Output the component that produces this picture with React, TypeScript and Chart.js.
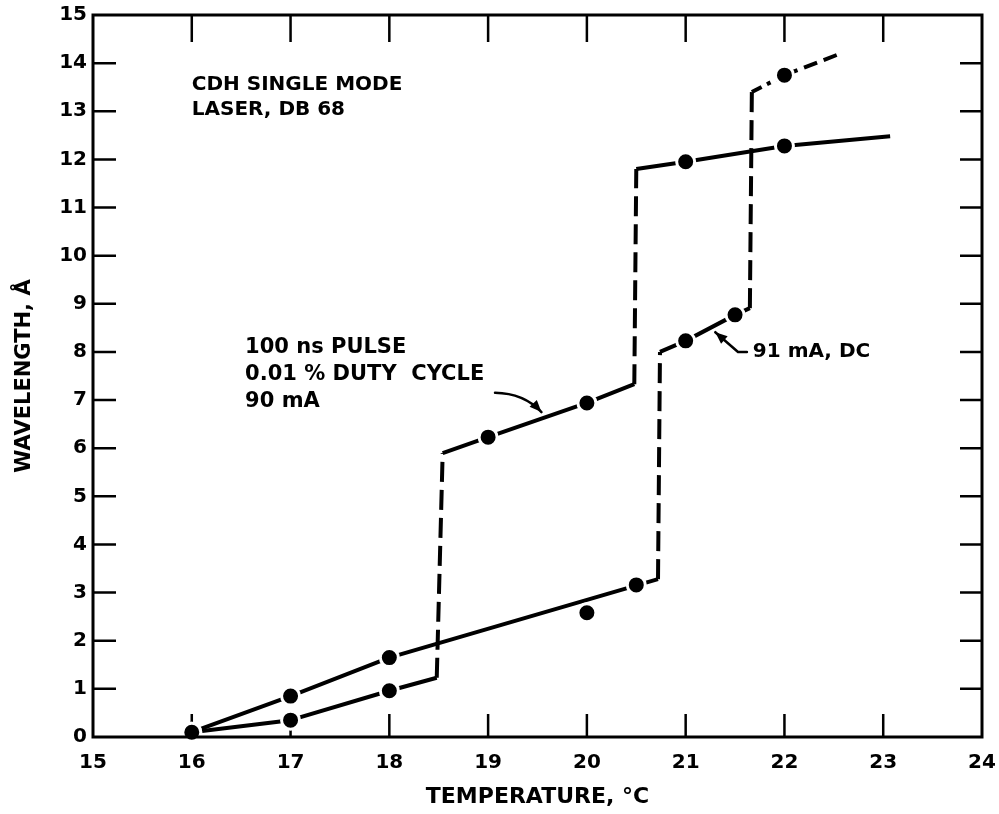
import { useEffect, useRef } from "react";
import { Chart, registerables } from "chart.js";

Chart.register(...registerables);

const FONT = "'DejaVu Sans', sans-serif";

// Axis ticks
const xTickValues = [15, 16, 17, 18, 19, 20, 21, 22, 23, 24];
const yTickValues = [0, 1, 2, 3, 4, 5, 6, 7, 8, 9, 10, 11, 12, 13, 14, 15];

// 100 ns pulse, 0.01 % duty cycle, 90 mA — drawn curve (vertices) and measured points
const pulseCurveX = [16, 17, 18, 18.48, 18.54, 19, 20, 20.48, 20.5, 21, 22, 23.07];
const pulseCurveY = [0.1, 0.35, 0.96, 1.23, 5.9, 6.23, 6.94, 7.33, 11.8, 11.95, 12.28, 12.48];
const pulseCurveStyle = ["solid", "solid", "solid", "dash", "solid", "solid", "solid", "dash", "solid", "solid", "solid"];
const pulsePointsX = [16, 17, 18, 19, 20, 21, 22];
const pulsePointsY = [0.1, 0.35, 0.96, 6.23, 6.94, 11.95, 12.28];

// 91 mA, DC — drawn curve (vertices) and measured points
const dcCurveX = [16, 17, 18, 20.72, 20.74, 21, 21.5, 21.65, 21.67, 22, 22.53];
const dcCurveY = [0.1, 0.85, 1.65, 3.28, 8.0, 8.23, 8.77, 8.91, 13.4, 13.75, 14.17];
const dcCurveStyle = ["solid", "solid", "solid", "dash", "solid", "solid", "solid", "dash", "dashdot", "dashshort"];
const dcPointsX = [16, 17, 18, 20, 20.5, 21, 21.5, 22];
const dcPointsY = [0.1, 0.85, 1.65, 2.58, 3.16, 8.23, 8.77, 13.75];

// Text notes: [text, x, y, font size] in data units (left edge, vertical centre)
const noteLines: [string, number, number, number][] = [
  ["CDH SINGLE MODE", 16.0, 13.55, 20],
  ["LASER, DB 68", 16.0, 13.03, 20],
  ["100 ns PULSE", 16.54, 8.1, 21],
  ["0.01 % DUTY  CYCLE", 16.54, 7.52, 21],
  ["90 mA", 16.54, 6.96, 21],
  ["91 mA, DC", 21.68, 8.0, 20],
];

// Leader arrows (data units)
const pulseLeader = { start: [19.07, 7.15], ctrl: [19.36, 7.14], end: [19.54, 6.75] };
const dcLeader = [
  [21.62, 8.0],
  [21.53, 8.0],
  [21.3, 8.41],
];

const DASHES: Record<string, number[]> = {
  solid: [],
  dash: [20, 8],
  dashdot: [11, 6, 4, 6],
  dashshort: [14, 7],
};

const toXY = (xs: number[], ys: number[]) => xs.map((x, i) => ({ x, y: ys[i] }));

function drawArrowHead(ctx: CanvasRenderingContext2D, fx: number, fy: number, tx: number, ty: number) {
  const ang = Math.atan2(ty - fy, tx - fx);
  const len = 12;
  const half = 5;
  ctx.beginPath();
  ctx.moveTo(tx, ty);
  ctx.lineTo(tx - len * Math.cos(ang) + half * Math.sin(ang), ty - len * Math.sin(ang) - half * Math.cos(ang));
  ctx.lineTo(tx - len * Math.cos(ang) - half * Math.sin(ang), ty - len * Math.sin(ang) + half * Math.cos(ang));
  ctx.closePath();
  ctx.fill();
}

const plotDecor = {
  id: "plotDecor",
  beforeDatasetsDraw(chart: any) {
    const { ctx, chartArea: a, scales } = chart;
    const xs = scales.x;
    const ys = scales.y;
    ctx.save();
    ctx.strokeStyle = "#000";
    ctx.lineWidth = 2.5;
    ctx.beginPath();
    for (const v of xTickValues.slice(1, -1)) {
      const px = xs.getPixelForValue(v);
      ctx.moveTo(px, a.bottom);
      ctx.lineTo(px, a.bottom - 23);
      ctx.moveTo(px, a.top);
      ctx.lineTo(px, a.top + 27);
    }
    for (const v of yTickValues.slice(1, -1)) {
      const py = ys.getPixelForValue(v);
      ctx.moveTo(a.left, py);
      ctx.lineTo(a.left + 23, py);
      ctx.moveTo(a.right, py);
      ctx.lineTo(a.right - 22, py);
    }
    ctx.stroke();
    ctx.restore();
  },
  afterDatasetsDraw(chart: any) {
    const { ctx, chartArea: a, scales } = chart;
    const xs = scales.x;
    const ys = scales.y;
    const P = (p: number[]) => [xs.getPixelForValue(p[0]), ys.getPixelForValue(p[1])];
    ctx.save();
    // frame
    ctx.strokeStyle = "#000";
    ctx.lineWidth = 3;
    ctx.strokeRect(a.left, a.top, a.right - a.left, a.bottom - a.top);

    // notes
    ctx.fillStyle = "#000";
    ctx.textAlign = "left";
    ctx.textBaseline = "middle";
    for (const [t, x, y, size] of noteLines) {
      ctx.font = `bold ${size}px ${FONT}`;
      ctx.fillText(t, xs.getPixelForValue(x), ys.getPixelForValue(y));
    }

    // leaders
    ctx.lineWidth = 2.5;
    ctx.lineCap = "round";
    ctx.lineJoin = "round";
    const s = P(pulseLeader.start);
    const c = P(pulseLeader.ctrl);
    const e = P(pulseLeader.end);
    ctx.beginPath();
    ctx.moveTo(s[0], s[1]);
    ctx.quadraticCurveTo(c[0], c[1], e[0], e[1]);
    ctx.stroke();
    drawArrowHead(ctx, c[0], c[1], e[0], e[1]);

    const d = dcLeader.map(P);
    ctx.beginPath();
    ctx.moveTo(d[0][0], d[0][1]);
    for (let i = 1; i < d.length; i++) ctx.lineTo(d[i][0], d[i][1]);
    ctx.stroke();
    drawArrowHead(ctx, d[d.length - 2][0], d[d.length - 2][1], d[d.length - 1][0], d[d.length - 1][1]);
    ctx.restore();
  },
};

function curveDataset(xs: number[], ys: number[], styles: string[]) {
  return {
    type: "line" as const,
    data: toXY(xs, ys),
    borderColor: "#000",
    borderWidth: 4,
    borderCapStyle: "butt" as const,
    borderJoinStyle: "round" as const,
    pointRadius: 0,
    tension: 0,
    fill: false,
    clip: false,
    order: 2,
    segment: {
      borderDash: (ctx: any) => DASHES[styles[ctx.p0DataIndex]] || [],
    },
  };
}

function pointDataset(xs: number[], ys: number[]) {
  return {
    type: "line" as const,
    data: toXY(xs, ys),
    showLine: false,
    pointRadius: 9,
    pointBackgroundColor: "#000",
    pointBorderColor: "#fff",
    pointBorderWidth: 3,
    clip: false,
    order: 1,
  };
}

// Tick marks are drawn inward by the plugin; the scale's own ticks stay invisible
// and only reserve the gap between the frame and the labels.
const hiddenTicks = (len: number) => ({
  display: true,
  drawOnChartArea: false,
  drawTicks: true,
  tickLength: len,
  tickColor: "rgba(0,0,0,0)",
  color: "rgba(0,0,0,0)",
});

export default function App() {
  const ref = useRef<HTMLCanvasElement | null>(null);

  useEffect(() => {
    document.body.style.margin = "0";
    if (!ref.current) return;
    const chart = new Chart(ref.current, {
      type: "line",
      data: {
        datasets: [
          curveDataset(pulseCurveX, pulseCurveY, pulseCurveStyle),
          curveDataset(dcCurveX, dcCurveY, dcCurveStyle),
          pointDataset(pulsePointsX, pulsePointsY),
          pointDataset(dcPointsX, dcPointsY),
        ] as any,
      },
      options: {
        animation: false,
        responsive: false,
        events: [],
        layout: { padding: { top: 15, right: 17, left: 0, bottom: 0 } },
        plugins: { legend: { display: false }, tooltip: { enabled: false } },
        scales: {
          x: {
            type: "linear",
            min: 15,
            max: 24,
            afterBuildTicks: (s: any) => {
              s.ticks = xTickValues.map((value) => ({ value }));
            },
            afterFit: (s: any) => {
              s.height = 77;
            },
            grid: hiddenTicks(14),
            border: { display: false },
            ticks: {
              color: "#000",
              padding: 0,
              maxRotation: 0,
              font: { family: FONT, size: 20, weight: "bold" },
            },
            title: {
              display: true,
              text: "TEMPERATURE, °C",
              color: "#000",
              padding: { top: 4, bottom: 4 },
              font: { family: FONT, size: 22, weight: "bold" },
            },
          },
          y: {
            type: "linear",
            min: 0,
            max: 15,
            afterBuildTicks: (s: any) => {
              s.ticks = yTickValues.map((value) => ({ value }));
            },
            afterFit: (s: any) => {
              s.width = 93;
            },
            grid: hiddenTicks(6),
            border: { display: false },
            ticks: {
              color: "#000",
              padding: 0,
              font: { family: FONT, size: 20, weight: "bold" },
            },
            title: {
              display: true,
              text: "WAVELENGTH, Å",
              color: "#000",
              padding: { top: 12, bottom: 12 },
              font: { family: FONT, size: 21, weight: "bold" },
            },
          },
        },
      } as any,
      plugins: [plotDecor],
    });
    return () => chart.destroy();
  }, []);

  return (
    <div style={{ width: 999, height: 814, background: "#fff" }}>
      <canvas ref={ref} width={999} height={814} />
    </div>
  );
}
